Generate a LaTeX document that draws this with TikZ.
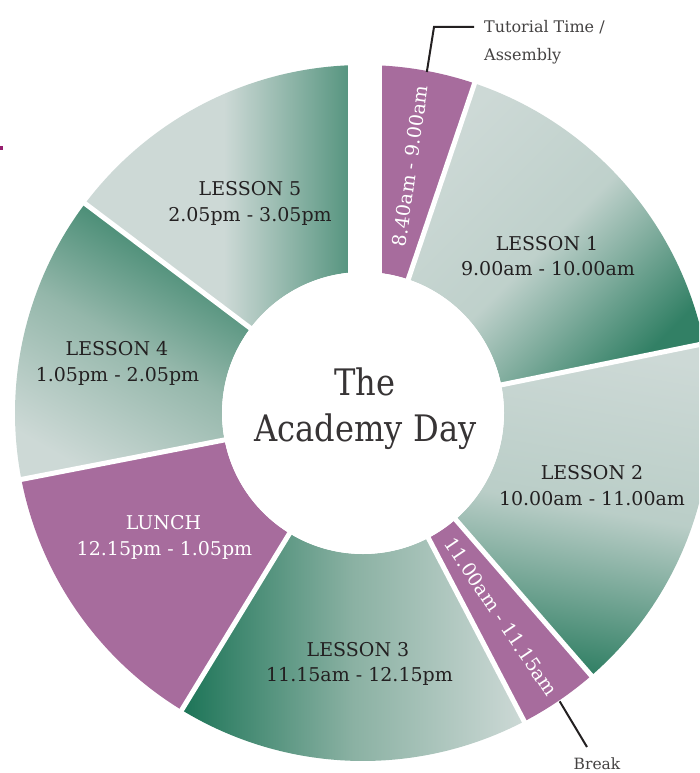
\documentclass[tikz,border=0pt]{standalone}
\usepackage{fontspec}
\setmainfont{DejaVu Serif}
\newfontfamily\centerfont[FakeStretch=0.88]{DejaVu Serif}
\usetikzlibrary{calc}
\definecolor{segl}{RGB}{205,217,214}
\definecolor{segd}{RGB}{50,128,101}
\definecolor{segdd}{RGB}{28,116,87}
\definecolor{segm}{RGB}{110,160,141}
\definecolor{purp}{RGB}{167,108,157}
\definecolor{txt}{RGB}{35,32,33}
\definecolor{ctr}{RGB}{55,52,53}
\definecolor{mag}{RGB}{150,30,110}
\newcommand{\Ro}{348}
\newcommand{\Ri}{141}
\newcommand{\annseg}[2]{($(C)+({#1-90}:\Ro)$) arc[start angle={#1-90}, end angle={#2-90}, radius=\Ro] -- ($(C)+({#2-90}:\Ri)$) arc[start angle={#2-90}, end angle={#1-90}, radius=\Ri] -- cycle}
\begin{document}
\begin{tikzpicture}[x=1pt,y=-1pt,
  lbl/.style={font=\fontsize{19}{23}\selectfont, text=txt, inner sep=0pt, anchor=base},
  wlbl/.style={lbl, text=white},
  rlbl/.style={font=\fontsize{19}{23}\selectfont, text=white, inner sep=0pt},
  clbl/.style={font=\centerfont\fontsize{36.5}{40}\selectfont, text=ctr, inner sep=0pt, anchor=base},
  slbl/.style={font=\fontsize{16}{20}\selectfont, text=txt!85, inner sep=0pt, anchor=base west},
  leader/.style={draw=txt, line width=2pt},
  gapline/.style={draw=white, line width=5pt}]
\useasboundingbox (0,0) rectangle (699,773);
\clip (0,0) rectangle (699,773);
\coordinate (C) at (363,413);
% lesson segments
\shade[top color=segl, bottom color=segd, middle color=segl!85!segm, shading angle=45] \annseg{18.7}{78.5};
\shade[top color=segl, bottom color=segd, middle color=segl!80!segm, shading angle=-10] \annseg{78.5}{139};
\shade[left color=segdd, right color=segl, middle color=segm!70!segl] \annseg{152.4}{211.4};
\shade[top color=segd, bottom color=segl, middle color=segm!60!segl, shading angle=-30] \annseg{259}{307};
\shade[left color=segl, right color=segd!85!segl, middle color=segl] \annseg{307}{360};
% purple segments
\fill[purp] \annseg{0}{18.7};
\fill[purp] \annseg{139}{152.4};
\fill[purp] \annseg{211.4}{259};
% gaps
\foreach \a in {18.7,78.5,139,152.4,211.4,259,307}
  \draw[gapline] (C) -- ($(C)+({\a-90}:365)$);
\fill[white] (348,0) rectangle (382,413);
\fill[white] (C) circle[radius=\Ri];
% small mark at left edge
\fill[mag] (0,146) rectangle (3,150);
% labels
\node[lbl] (l5a) at (250,195) {LESSON 5};
\node[lbl] (l5b) at (250,221.5) {2.05pm - 3.05pm};
\node[lbl] (l1a) at (547,250) {LESSON 1};
\node[lbl] (l1b) at (548,275.5) {9.00am - 10.00am};
\node[lbl] (l2a) at (592,479) {LESSON 2};
\node[lbl] (l2b) at (592,505) {10.00am - 11.00am};
\node[lbl] (l4a) at (117,355) {LESSON 4};
\node[lbl] (l4b) at (117.5,381) {1.05pm - 2.05pm};
\node[wlbl] (lua) at (163.5,529.5) {LUNCH};
\node[wlbl] (lub) at (164.5,555) {12.15pm - 1.05pm};
\node[lbl] (l3a) at (358,656.5) {LESSON 3};
\node[lbl] (l3b) at (359.5,681.5) {11.15am - 12.15pm};
\node[rlbl, rotate=82] (tut) at (410,166) {8.40am - 9.00am};
\node[rlbl, rotate=-56] (brk) at (501,617) {11.00am - 11.15am};
% centre
\node[clbl] (t1) at (365,395) {The};
\node[clbl] (t2) at (365.5,441.5) {Academy Day};
% side labels and leaders
\node[slbl] (tutl1) at (484,33) {Tutorial Time /};
\node[slbl] (tutl2) at (484,60.5) {Assembly};
\node[font=\fontsize{15.5}{19}\selectfont, text=txt!85, inner sep=0pt, anchor=base] (brkl) at (597,769) {Break};
\coordinate (tutA) at ($(C)+({10.6-90}:\Ro-1)$);
\coordinate (tutK) at (434,27);
\coordinate (tutE) at (474,27);
\draw[leader] (tutA) -- (tutK) -- (tutE);
\coordinate (brkA) at ($(C)+({145.7-90}:\Ro+1)$);
\coordinate (brkE) at (587,747);
\draw[leader] (brkA) -- (brkE);
\end{tikzpicture}
\end{document}
